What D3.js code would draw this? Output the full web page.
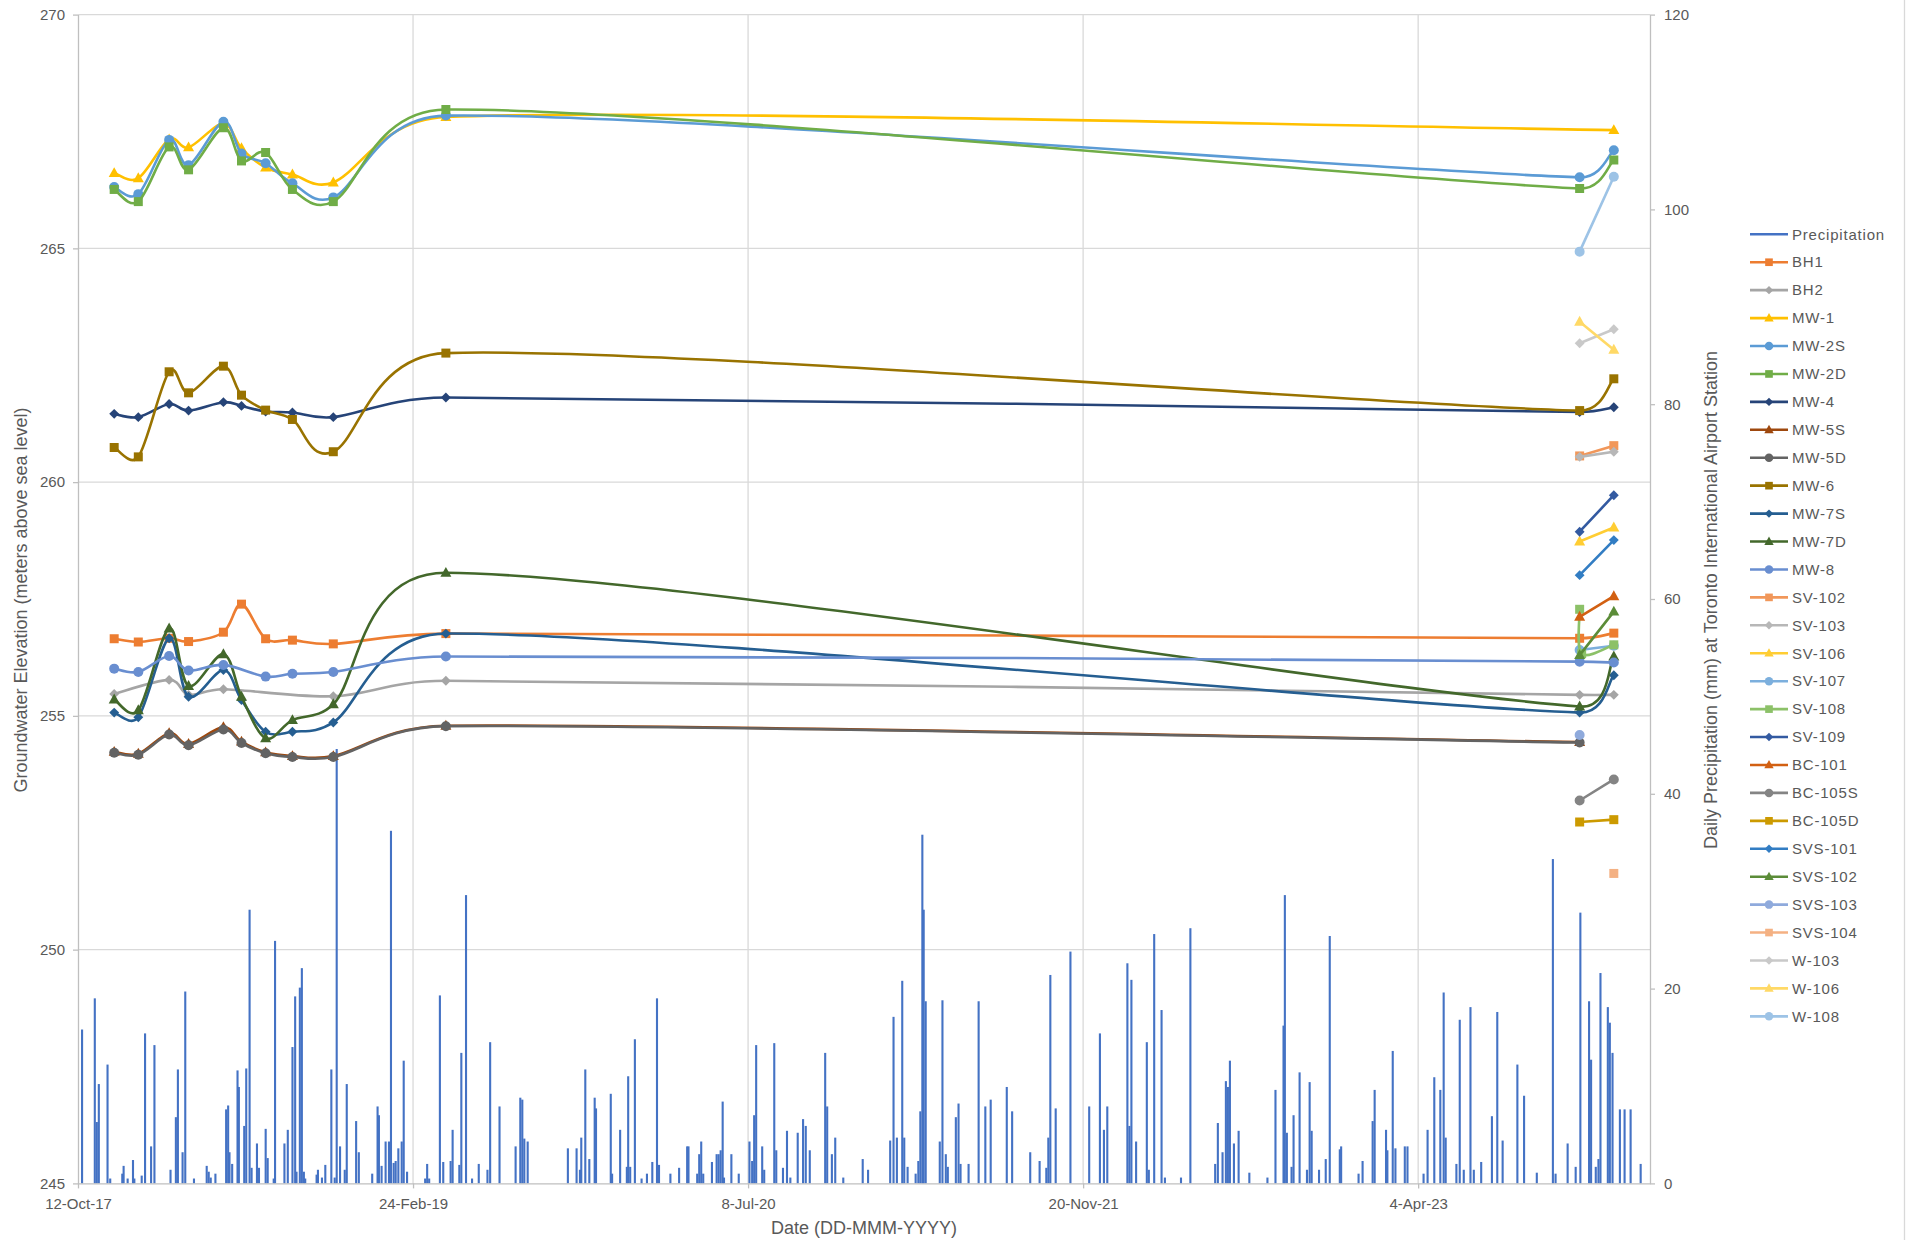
<!DOCTYPE html>
<html>
<head>
<meta charset="utf-8">
<script src="https://cdn.jsdelivr.net/npm/d3@7"></script>
<style>
  body { margin: 0; background: #fff; }
  text { font-family: "Liberation Sans", Arial, sans-serif; fill: #595959; }
</style>
</head>
<body>
<svg id="chart" width="1907" height="1240"></svg>
<script>
// ---- Monitoring dates (groundwater levels) ----
const sampleDates = ["2017-12-05","2018-01-10","2018-02-25","2018-03-26","2018-05-17","2018-06-13",
                     "2018-07-19","2018-08-28","2018-10-28","2019-04-14","2023-12-01","2023-12-04","2024-01-21"];

// ---- Groundwater elevations (m asl), one value per monitoring date ----
const BH1    = [256.65,256.58,256.66,256.59,256.79,257.39,256.65,256.62,256.54,256.76,256.66,null,256.77];
const BH2    = [255.47,null,255.77,255.45,255.57,null,null,null,255.42,255.75,255.45,null,255.45];
const MW1    = [266.61,266.50,267.33,267.16,267.67,267.14,266.73,266.58,266.41,267.81,null,null,267.53];
const MW2S   = [266.31,266.16,267.32,266.78,267.71,267.03,266.82,266.39,266.09,267.84,266.52,null,267.10];
const MW2D   = [266.26,266.00,267.17,266.68,267.58,266.87,267.05,266.26,266.00,267.97,266.28,null,266.89];
const MW4    = [261.46,261.39,261.67,261.53,261.71,261.63,261.51,261.49,261.39,261.81,261.50,null,261.60];
const MW5S   = [254.23,254.19,254.63,254.40,254.76,254.45,254.22,254.14,254.14,254.79,254.44,null,null];
const MW5D   = [254.21,254.17,254.60,254.37,254.71,254.42,254.20,254.12,254.12,254.78,254.43,null,null];
const MW6    = [260.74,260.54,262.36,261.91,262.48,261.86,261.54,261.34,260.65,262.76,261.53,null,262.21];
const MW7S   = [255.07,254.97,256.66,255.41,255.98,255.34,254.66,254.66,254.86,256.76,255.07,null,255.87];
const MW7D   = [255.35,255.12,256.87,255.64,256.32,255.41,254.52,254.91,255.25,258.06,255.20,null,256.27];
const MW8    = [256.01,255.94,256.28,255.97,256.09,null,255.84,255.90,255.94,256.27,256.16,null,256.14];
const SV102  = [null,null,null,null,null,null,null,null,null,null,260.56,null,260.78];
const SV103  = [null,null,null,null,null,null,null,null,null,null,260.54,null,260.65];
const SV106  = [null,null,null,null,null,null,null,null,null,null,258.73,null,259.03];
const SV107  = [null,null,null,null,null,null,null,null,null,null,256.41,null,256.50];
const SV108  = [null,null,null,null,null,null,null,null,null,null,257.28,256.33,256.52];
const SV109  = [null,null,null,null,null,null,null,null,null,null,258.94,null,259.72];
const BC101  = [null,null,null,null,null,null,null,null,null,null,257.12,null,257.56];
const BC105S = [null,null,null,null,null,null,null,null,null,null,253.19,null,253.64];
const BC105D = [null,null,null,null,null,null,null,null,null,null,252.73,null,252.78];
const SVS101 = [null,null,null,null,null,null,null,null,null,null,258.01,null,258.76];
const SVS102 = [null,null,null,null,null,null,null,null,null,null,256.30,null,257.23];
const SVS103 = [null,null,null,null,null,null,null,null,null,null,254.59,null,null];
const SVS104 = [null,null,null,null,null,null,null,null,null,null,null,null,251.63];
const W103   = [null,null,null,null,null,null,null,null,null,null,262.97,null,263.27];
const W106   = [null,null,null,null,null,null,null,null,null,null,263.43,null,262.83];
const W108   = [null,null,null,null,null,null,null,null,null,null,264.93,null,266.53];

const seriesNames  = ["BH1","BH2","MW-1","MW-2S","MW-2D","MW-4","MW-5S","MW-5D","MW-6","MW-7S","MW-7D","MW-8",
                      "SV-102","SV-103","SV-106","SV-107","SV-108","SV-109","BC-101","BC-105S","BC-105D",
                      "SVS-101","SVS-102","SVS-103","SVS-104","W-103","W-106","W-108"];
const seriesValues = [BH1,BH2,MW1,MW2S,MW2D,MW4,MW5S,MW5D,MW6,MW7S,MW7D,MW8,
                      SV102,SV103,SV106,SV107,SV108,SV109,BC101,BC105S,BC105D,
                      SVS101,SVS102,SVS103,SVS104,W103,W106,W108];
const seriesColors = ["#ED7D31","#A5A5A5","#FFC000","#5B9BD5","#70AD47","#264478","#9E480E","#636363","#997300",
                      "#255E91","#43682B","#698ED0","#F1975A","#B7B7B7","#FFCD33","#7CAFDD","#8CC168","#335AA1",
                      "#D26012","#848484","#CC9A00","#327DC3","#5B8C38","#8FAADC","#F4B183","#C9C9C9","#FFD966","#9DC3E6"];
const markerCycle  = ["square","diamond","triangle","circle"];

// ---- Daily precipitation, Toronto Pearson (days after 12-Oct-2017, mm) ----
const precipStart = "2017-10-12";
const precipDay = [6,25,28,31,44,48,66,68,74,82,84,95,100,109,114,138,146,149,156,160,173,192,195,198,205,
  221,224,226,230,238,240,248,251,256,259,267,270,280,283,292,294,308,313,320,324,326,331,334,337,339,
  356,358,364,369,378,383,386,391,398,401,415,419,439,447,449,453,459,464,467,471,474,478,483,486,491,
  518,521,524,540,545,556,559,569,572,579,588,598,611,615,629,653,660,663,666,671,
  731,744,749,751,757,763,771,773,795,797,809,819,821,824,831,841,849,857,864,867,884,897,909,911,924,
  927,930,933,946,953,956,959,962,964,975,986,1002,1006,1009,1012,1021,1024,1039,1042,1052,1058,1063,
  1074,1082,1086,1092,1115,1118,1125,1130,1142,1171,1179,1212,1217,1222,1230,1233,1238,1250,1254,1257,
  1260,1262,1265,1286,1290,1295,1298,1310,1314,1317,1329,1344,1354,1362,1386,1394,1421,1435,1445,1448,
  1451,1459,1481,1509,1525,1531,1536,1566,1569,1572,1579,1595,1598,1606,1617,1622,1646,1660,1697,1701,
  1708,1713,1716,1719,1725,1732,1748,1775,1787,1799,1801,1804,1811,1814,1823,1834,1838,1841,1852,1862,
  1868,1883,1885,1911,1917,1932,1935,1952,1954,1962,1966,1980,1984,2008,2014,2024,2033,2038,2041,2057,
  2062,2068,2078,2083,2094,2110,2118,2126,2148,2158,2177,2201,2205,2223,2235,2242,2255,2258,2265,2269,
  2272,2283,2286,2290,2301,2308,2317,2332];
const precipMm = [15.8,19.0,6.3,10.2,12.2,0.5,1.0,1.8,0.5,2.4,0.5,0.8,15.4,3.8,14.2,1.4,6.8,11.7,3.2,19.7,0.5,1.8,1.2,0.6,1.0,
  7.6,8.0,3.2,2.0,11.6,9.9,5.9,11.8,28.1,1.6,4.1,1.6,5.6,2.6,0.5,24.9,4.1,5.5,14.0,19.2,1.2,20.1,22.1,1.2,0.5,
  0.9,1.4,0.6,1.9,11.7,0.6,44.6,3.8,1.4,10.2,6.4,3.2,1.0,7.9,7.0,1.8,4.3,4.3,36.2,2.1,2.3,3.6,4.3,12.6,1.2,
  0.5,2.0,0.5,19.3,2.2,2.3,5.5,1.9,13.4,29.6,0.5,2.0,1.4,14.5,7.9,3.8,8.8,8.6,4.6,4.3,
  3.6,3.6,1.4,4.7,11.7,2.5,8.8,7.7,9.2,1.0,5.5,1.7,11.0,1.7,14.8,0.5,1.0,2.2,19.0,1.9,1.0,1.6,3.8,3.8,1.0,
  3.0,4.3,1.0,2.2,3.0,3.0,3.4,8.4,0.6,3.0,1.0,4.3,2.3,7.0,14.2,3.8,1.4,14.4,3.4,1.6,5.4,0.6,
  5.2,6.6,5.9,3.4,13.4,7.9,3.0,4.7,0.6,2.5,1.4,4.4,17.1,4.7,20.8,4.7,1.7,1.0,2.3,7.4,
  35.8,28.1,18.7,4.3,18.8,3.0,1.7,6.8,8.2,2.0,2.0,18.7,7.9,8.6,9.9,7.4,3.2,2.3,1.6,4.7,
  21.4,7.7,23.8,7.9,15.4,5.5,7.9,22.6,5.9,20.9,4.3,14.5,1.4,25.6,17.8,0.6,0.6,26.2,2.0,6.2,
  3.2,10.5,9.9,12.6,4.1,5.4,1.1,0.6,9.6,16.2,29.6,5.2,1.7,7.0,11.4,1.4,10.4,5.4,1.4,2.5,
  25.4,3.5,3.8,1.0,2.3,6.4,9.6,5.5,3.4,13.6,3.6,3.8,3.8,1.0,5.5,10.9,9.6,19.6,4.7,2.0,
  16.8,1.4,18.1,1.4,2.2,6.9,17.6,4.4,12.2,9.0,1.1,33.3,1.0,4.1,1.7,27.8,18.7,12.7,1.7,2.5,
  21.6,18.1,16.5,13.4,7.6,7.6,7.6,2.0];

// ---- Axes ----
const axisStart = "2017-10-12", axisEnd = "2024-03-15";
const dateTicks = ["2017-10-12","2019-02-24","2020-07-08","2021-11-20","2023-04-04"];
const elevTicks = [245,250,255,260,265,270];
const precipTicks = [0,20,40,60,80,100,120];

const svg = d3.select("#chart");
const parse = d3.utcParse("%Y-%m-%d");
const fmt = d3.utcFormat("%-d-%b-%y");
const DAY = 864e5;
const P = {left: 78, right: 1650, top: 14.6, bottom: 1183.4};

const x  = d3.scaleUtc().domain([parse(axisStart), parse(axisEnd)]).range([P.left, P.right]);
const y  = d3.scaleLinear().domain([245, 270]).range([P.bottom, P.top]);
const y2 = d3.scaleLinear().domain([0, 120]).range([P.bottom, P.top]);

svg.append("rect").attr("width",1907).attr("height",1240).attr("fill","#fff");
// chart area border (right edge)
svg.append("line").attr("x1",1904.5).attr("x2",1904.5).attr("y1",0).attr("y2",1240)
  .attr("stroke","#D9D9D9").attr("stroke-width",1.3);

// gridlines
svg.append("g").selectAll("line").data(elevTicks.slice(1)).join("line")
  .attr("x1",P.left).attr("x2",P.right).attr("y1",d=>y(d)).attr("y2",d=>y(d))
  .attr("stroke","#D9D9D9").attr("stroke-width",1.3);
svg.append("g").selectAll("line").data(dateTicks.slice(1)).join("line")
  .attr("x1",d=>x(parse(d))).attr("x2",d=>x(parse(d))).attr("y1",P.top).attr("y2",P.bottom)
  .attr("stroke","#D9D9D9").attr("stroke-width",1.3);

// precipitation bars (secondary axis)
const p0 = parse(precipStart);
svg.append("g").selectAll("rect").data(precipDay.map((d,i)=>({day:d, mm:precipMm[i]}))).join("rect")
  .attr("x", d => x(new Date(+p0 + d.day*DAY)) - 1)
  .attr("width", 2.1)
  .attr("y", d => y2(d.mm))
  .attr("height", d => y2(0) - y2(d.mm))
  .attr("fill", "#4472C4");

// axes
function styleAxis(g){
  g.selectAll(".domain").attr("stroke","#BFBFBF").attr("stroke-width",1.3);
  g.selectAll(".tick line").attr("stroke","#BFBFBF").attr("stroke-width",1.3);
  g.selectAll(".tick text").attr("fill","#595959").attr("font-size",15)
    .attr("font-family",'"Liberation Sans", Arial, sans-serif');
}
svg.append("g").attr("transform",`translate(${P.left},0)`)
  .call(d3.axisLeft(y).tickValues(elevTicks).tickSize(5).tickSizeOuter(0).tickPadding(8)).call(styleAxis);
svg.append("g").attr("transform",`translate(${P.right},0)`)
  .call(d3.axisRight(y2).tickValues(precipTicks).tickSize(5).tickSizeOuter(0).tickPadding(9)).call(styleAxis);
svg.append("g").attr("transform",`translate(0,${P.bottom})`)
  .call(d3.axisBottom(x).tickValues(dateTicks.map(parse)).tickFormat(fmt).tickSize(5).tickSizeOuter(0).tickPadding(10))
  .call(styleAxis);

// markers
function markerPath(kind, cx, cy, s){
  if (kind === "square") return `M${cx-s/2},${cy-s/2}h${s}v${s}h${-s}Z`;
  if (kind === "diamond") { const r = s*0.55; return `M${cx},${cy-r}L${cx+r},${cy}L${cx},${cy+r}L${cx-r},${cy}Z`; }
  if (kind === "triangle") { const h = s*0.9; return `M${cx},${cy-h*0.6}L${cx+s/2},${cy+h*0.4}L${cx-s/2},${cy+h*0.4}Z`; }
  const r = s/2; return `M${cx-r},${cy}a${r},${r} 0 1,0 ${2*r},0a${r},${r} 0 1,0 ${-2*r},0Z`;
}
const markerSize = {square: 9, diamond: 9, triangle: 11, circle: 10};

// Smoothed line: Catmull-Rom style tangents (1/6 of neighbour span),
// with each control arm capped at half of its own segment length.
function curveSmooth(context){
  let pts;
  return {
    areaStart(){}, areaEnd(){},
    lineStart(){ pts = []; },
    point(px, py){ pts.push([+px, +py]); },
    lineEnd(){
      const n = pts.length;
      if (!n) return;
      context.moveTo(pts[0][0], pts[0][1]);
      if (n === 1) return;
      if (n === 2) { context.lineTo(pts[1][0], pts[1][1]); return; }
      const T = pts.map((p, i) => {
        const a = pts[Math.max(0, i-1)], b = pts[Math.min(n-1, i+1)];
        return [(b[0]-a[0])/6, (b[1]-a[1])/6];
      });
      for (let i = 0; i < n-1; i++){
        const p = pts[i], q = pts[i+1];
        const L = Math.hypot(q[0]-p[0], q[1]-p[1]);
        const cap = v => { const m = Math.hypot(v[0], v[1]); const s = m > L*0.5 ? L*0.5/m : 1; return [v[0]*s, v[1]*s]; };
        const a = cap(T[i]), b = cap(T[i+1]);
        context.bezierCurveTo(p[0]+a[0], p[1]+a[1], q[0]-b[0], q[1]-b[1], q[0], q[1]);
      }
    }
  };
}

// groundwater series
const dates = sampleDates.map(parse);
const line = d3.line().x(d=>x(d.date)).y(d=>y(d.v)).curve(curveSmooth);
const gSeries = svg.append("g");
seriesNames.forEach((name, i) => {
  const pts = seriesValues[i].map((v,j)=>({date:dates[j], v})).filter(d=>d.v !== null);
  const g = gSeries.append("g");
  const color = seriesColors[i], kind = markerCycle[i % 4];
  g.append("path").attr("d", line(pts)).attr("fill","none").attr("stroke",color)
    .attr("stroke-width",2.6).attr("stroke-linejoin","round").attr("stroke-linecap","round");
  g.selectAll("path.m").data(pts).join("path").attr("class","m")
    .attr("d", d => markerPath(kind, x(d.date), y(d.v), markerSize[kind]))
    .attr("fill", color);
});

// axis titles
svg.append("text").attr("x",864).attr("y",1234).attr("text-anchor","middle").attr("font-size",18)
  .text("Date (DD-MMM-YYYY)");
svg.append("text").attr("transform","translate(27,600) rotate(-90)").attr("text-anchor","middle").attr("font-size",18)
  .text("Groundwater Elevation (meters above sea level)");
svg.append("text").attr("transform","translate(1716.5,600) rotate(-90)").attr("text-anchor","middle").attr("font-size",18)
  .text("Daily Precipitation (mm) at Toronto International Airport Station");

// legend
const legendNames = ["Precipitation", ...seriesNames];
const lg = svg.append("g");
legendNames.forEach((name, k) => {
  const ly = 234.3 + k*27.93;
  const color = k === 0 ? "#4472C4" : seriesColors[k-1];
  lg.append("line").attr("x1",1750).attr("x2",1788).attr("y1",ly).attr("y2",ly)
    .attr("stroke",color).attr("stroke-width",2.6);
  if (k > 0) {
    const kind = markerCycle[(k-1) % 4];
    lg.append("path").attr("d", markerPath(kind, 1769, ly, markerSize[kind]*0.85)).attr("fill", color);
  }
  lg.append("text").attr("x",1792).attr("y",ly).attr("dy","0.35em").attr("font-size",15)
    .attr("letter-spacing","0.8px").text(name);
});
</script>
</body>
</html>
